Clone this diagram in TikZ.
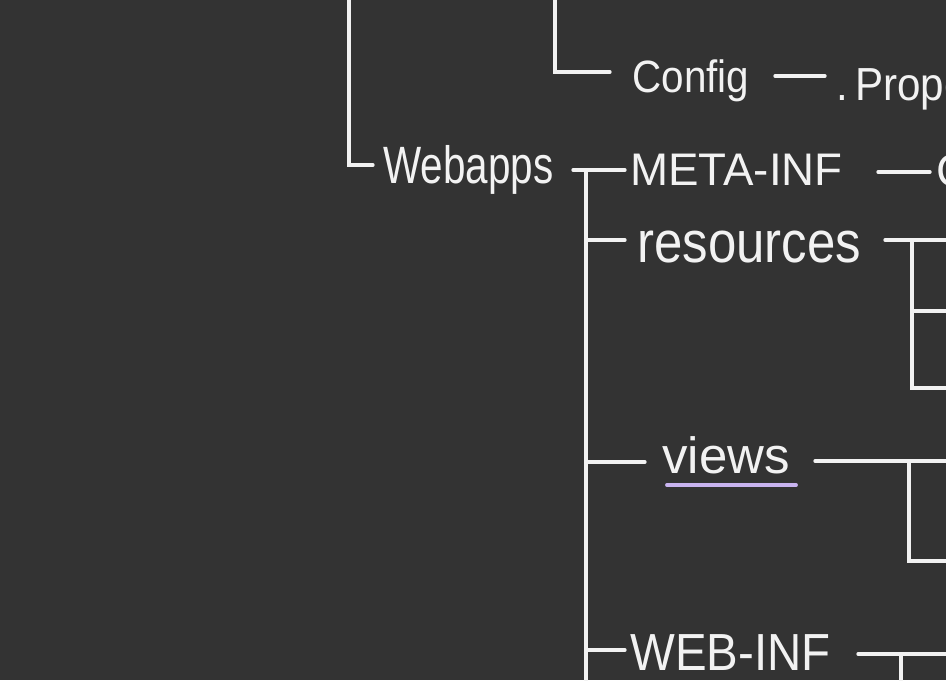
\documentclass[tikz,border=0pt]{standalone}
\usepackage{fontspec}
\setmainfont{Liberation Sans}
\usetikzlibrary{positioning,calc}
\definecolor{boardbg}{RGB}{51,51,51}
\definecolor{chalk}{RGB}{242,242,242}
\definecolor{hilite}{RGB}{201,180,240}
\newcommand{\tallish}[2][1.3]{\scalebox{1}[#1]{#2}}
\tikzset{
  dir/.style={text=chalk, inner sep=0pt, anchor=base west, font=\fontsize{26}{26}\selectfont},
  dirbig/.style={dir, font=\fontsize{29}{29}\selectfont},
  br/.style={draw=chalk, line width=1.9pt, line cap=round},
}
\begin{document}
\begin{tikzpicture}[x=0.02cm, y=-0.02cm]
    \fill[boardbg] (0,0) rectangle (946,680);
    \useasboundingbox (0,0) rectangle (946,680);
    \clip (0,0) rectangle (946,680);
    % labels
    \node[dir, font=\fontsize{23}{23}\selectfont] (webapps) at (383,183) {\tallish{Webapps}};
    \node[dir, font=\fontsize{23}{23}\selectfont] (config) at (632,92) {\tallish[1.12]{Config}};
    \node[dir, font=\fontsize{24}{24}\selectfont] (props) at (836,100) {\tallish[1.1]{.\,Prope}};
    \node[dir] (meta) at (630,185) {META-INF};
    \node[dir] (metakid) at (936,186) {C};
    \node[dirbig] (res) at (637,262) {\tallish[1.15]{resources}};
    \node[dirbig] (views) at (662,473) {views};
    \node[dir, font=\fontsize{27}{27}\selectfont] (webinf) at (630,670) {\tallish[1.1]{WEB-INF}};
    % junction points
    \coordinate (rootA) at (349,0);
    \coordinate (rootB) at (555,0);
    \coordinate (trunk) at (586,170);
    \coordinate (trunkend) at (586,680);
    \coordinate (resbus) at (912,240);
    \coordinate (viewbus) at (909,461);
    \coordinate (webbus) at (901,654);
    % upper elbows
    \draw[br] (rootA) |- (373,165);
    \draw[br] (rootB) |- (610,72);
    \draw[br] (775,76) -- (825,76);
    % webapps children
    \draw[br] (573,170) -- (625,170);
    \draw[br] (trunk) -- (trunkend);
    \draw[br] (878,172) -- (930,172);
    \draw[br] (586,240) -- (625,240);
    \draw[br] (885,240) -- (946,240);
    \draw[br] (resbus) |- (946,388);
    \draw[br] (912,311) -- (946,311);
    \draw[br] (586,462) -- (645,462);
    \draw[br] (815,461) -- (946,461);
    \draw[br] (viewbus) |- (946,561);
    \draw[line width=2.2pt, hilite, line cap=round] (667,485) -- (796,485);
    \draw[br] (586,650) -- (625,650);
    \draw[br] (858,654) -- (946,654);
    \draw[br] (webbus) -- (901,680);
  \end{tikzpicture}
\end{document}
